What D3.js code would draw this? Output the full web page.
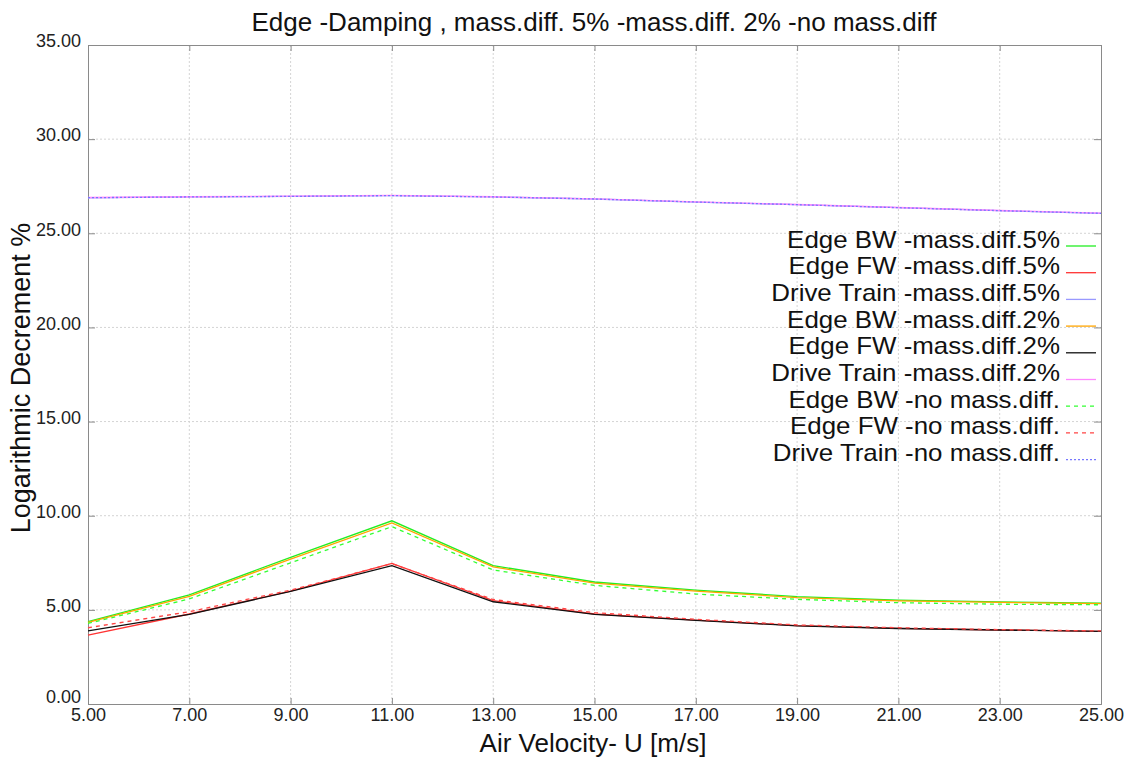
<!DOCTYPE html>
<html>
<head>
<meta charset="utf-8">
<script src="https://cdn.jsdelivr.net/npm/d3@7"></script>
<style>
  html, body { margin: 0; padding: 0; background: #fff; }
  svg { display: block; font-family: "Liberation Sans", Arial, sans-serif; }
</style>
</head>
<body>
<svg id="chart" width="1126" height="758"></svg>
<script>
// Air velocity U [m/s]
const velocity = [5, 7, 9, 11, 13, 15, 17, 19, 21, 23, 25];

// Logarithmic decrement [%] per mode and mass difference
const edgeBW5  = [4.37, 5.79, 7.79, 9.73, 7.35, 6.48, 6.05, 5.70, 5.52, 5.42, 5.35];
const edgeFW5  = [3.66, 4.78, 6.00, 7.47, 5.49, 4.78, 4.46, 4.16, 4.02, 3.93, 3.86];
const drive5   = [26.88, 26.93, 26.96, 27.00, 26.93, 26.82, 26.66, 26.52, 26.36, 26.20, 26.06];
const edgeBW2  = [4.33, 5.72, 7.70, 9.62, 7.28, 6.42, 6.00, 5.65, 5.48, 5.40, 5.33];
const edgeFW2  = [3.88, 4.76, 5.98, 7.35, 5.43, 4.76, 4.44, 4.15, 4.01, 3.93, 3.86];
const drive2   = [26.90, 26.94, 26.97, 27.01, 26.94, 26.83, 26.67, 26.53, 26.37, 26.21, 26.07];
const edgeBWno = [4.28, 5.58, 7.50, 9.42, 7.12, 6.30, 5.84, 5.56, 5.38, 5.30, 5.27];
const edgeFWno = [4.05, 4.90, 6.05, 7.45, 5.55, 4.85, 4.50, 4.20, 4.05, 3.95, 3.88];
const driveNo  = [26.89, 26.93, 26.96, 27.00, 26.93, 26.82, 26.66, 26.52, 26.36, 26.20, 26.06];

const seriesNames = [
  "Edge BW -mass.diff.5%", "Edge FW -mass.diff.5%", "Drive Train -mass.diff.5%",
  "Edge BW -mass.diff.2%", "Edge FW -mass.diff.2%", "Drive Train -mass.diff.2%",
  "Edge BW -no mass.diff.", "Edge FW -no mass.diff.", "Drive Train -no mass.diff."
];
const seriesValues = [edgeBW5, edgeFW5, drive5, edgeBW2, edgeFW2, drive2, edgeBWno, edgeFWno, driveNo];
const seriesColors = ["#22ee22", "#ff3333", "#9999ff", "#ffa500", "#111111", "#ff88ff", "#33ff33", "#ff4444", "#7777ff"];
const seriesDash   = [null, null, null, null, null, null, "4,4", "4,4", "2,2"];

const xTicks = [5, 7, 9, 11, 13, 15, 17, 19, 21, 23, 25];
const yTicks = [0, 5, 10, 15, 20, 25, 30, 35];

const titleText = "Edge -Damping , mass.diff. 5% -mass.diff. 2% -no mass.diff";
const xLabel = "Air Velocity- U [m/s]";
const yLabel = "Logarithmic Decrement %";

const svg = d3.select("#chart");
const margin = { left: 88, top: 45, right: 1101, bottom: 704 };

const x = d3.scaleLinear().domain([5, 25]).range([margin.left, margin.right]);
const y = d3.scaleLinear().domain([0, 35]).range([margin.bottom, margin.top]);

// grid
const grid = svg.append("g");
grid.selectAll("line.gx").data(xTicks.slice(1, -1)).join("line")
  .attr("x1", d => x(d)).attr("x2", d => x(d))
  .attr("y1", margin.top).attr("y2", margin.bottom)
  .attr("stroke", "#d4d4d4").attr("stroke-width", 1).attr("stroke-dasharray", "2,2");
grid.selectAll("line.gy").data(yTicks.slice(1, -1)).join("line")
  .attr("x1", margin.left).attr("x2", margin.right)
  .attr("y1", d => y(d)).attr("y2", d => y(d))
  .attr("stroke", "#d4d4d4").attr("stroke-width", 1).attr("stroke-dasharray", "2,2");

// axes with inward ticks
const fmt = d3.format(".2f");
const axB = svg.append("g").attr("transform", `translate(0,${margin.bottom})`)
  .call(d3.axisBottom(x).tickValues(xTicks).tickFormat(fmt).tickSize(-6).tickPadding(6));
const axL = svg.append("g").attr("transform", `translate(${margin.left},0)`)
  .call(d3.axisLeft(y).tickValues(yTicks).tickFormat(fmt).tickSize(-7).tickPadding(7));
const axT = svg.append("g").attr("transform", `translate(0,${margin.top})`)
  .call(d3.axisTop(x).tickValues(xTicks).tickFormat("").tickSize(-6));
const axR = svg.append("g").attr("transform", `translate(${margin.right},0)`)
  .call(d3.axisRight(y).tickValues(yTicks).tickFormat("").tickSize(-7));
[axB, axL, axT, axR].forEach(a => {
  a.select(".domain").attr("stroke", "#8a8a8a");
  a.selectAll(".tick line").attr("stroke", "#8a8a8a");
  a.selectAll("text").attr("fill", "#222").style("font-size", "18px")
    .style("font-family", "'Liberation Sans', Arial, sans-serif");
});
axB.selectAll("text").attr("dy", "0.6em");
axL.selectAll("text").attr("dy", d => d === 0 ? "-0.1em" : "0.1em");

// series lines
const line = d3.line().x((d, i) => x(velocity[i])).y(d => y(d));
const lines = svg.append("g");
seriesValues.forEach((vals, k) => {
  lines.append("path").datum(vals)
    .attr("d", line)
    .attr("fill", "none")
    .attr("stroke", seriesColors[k])
    .attr("stroke-width", 1.3)
    .attr("stroke-dasharray", seriesDash[k]);
});

// legend: wide glyphs on tight rows
const legend = svg.append("g");
seriesNames.forEach((name, k) => {
  const yy = 246 + k * 26.7;
  legend.append("text")
    .attr("transform", `translate(1060,${yy + 1.5}) scale(1.116,1)`)
    .attr("text-anchor", "end")
    .attr("fill", "#111")
    .style("font-size", "23.2px")
    .text(name);
  legend.append("line")
    .attr("x1", 1066).attr("x2", 1096)
    .attr("y1", yy).attr("y2", yy)
    .attr("stroke", seriesColors[k]).attr("stroke-width", 1.3)
    .attr("stroke-dasharray", seriesDash[k]);
});

// title and axis labels
svg.append("text").attr("x", 594).attr("y", 31)
  .attr("text-anchor", "middle").attr("fill", "#111")
  .style("font-size", "26px").text(titleText);
svg.append("text").attr("x", 593).attr("y", 752)
  .attr("text-anchor", "middle").attr("fill", "#111")
  .style("font-size", "26px").text(xLabel);
svg.append("text")
  .attr("transform", `translate(30,378) rotate(-90)`)
  .attr("text-anchor", "middle").attr("fill", "#111")
  .style("font-size", "27px").text(yLabel);
</script>
</body>
</html>
